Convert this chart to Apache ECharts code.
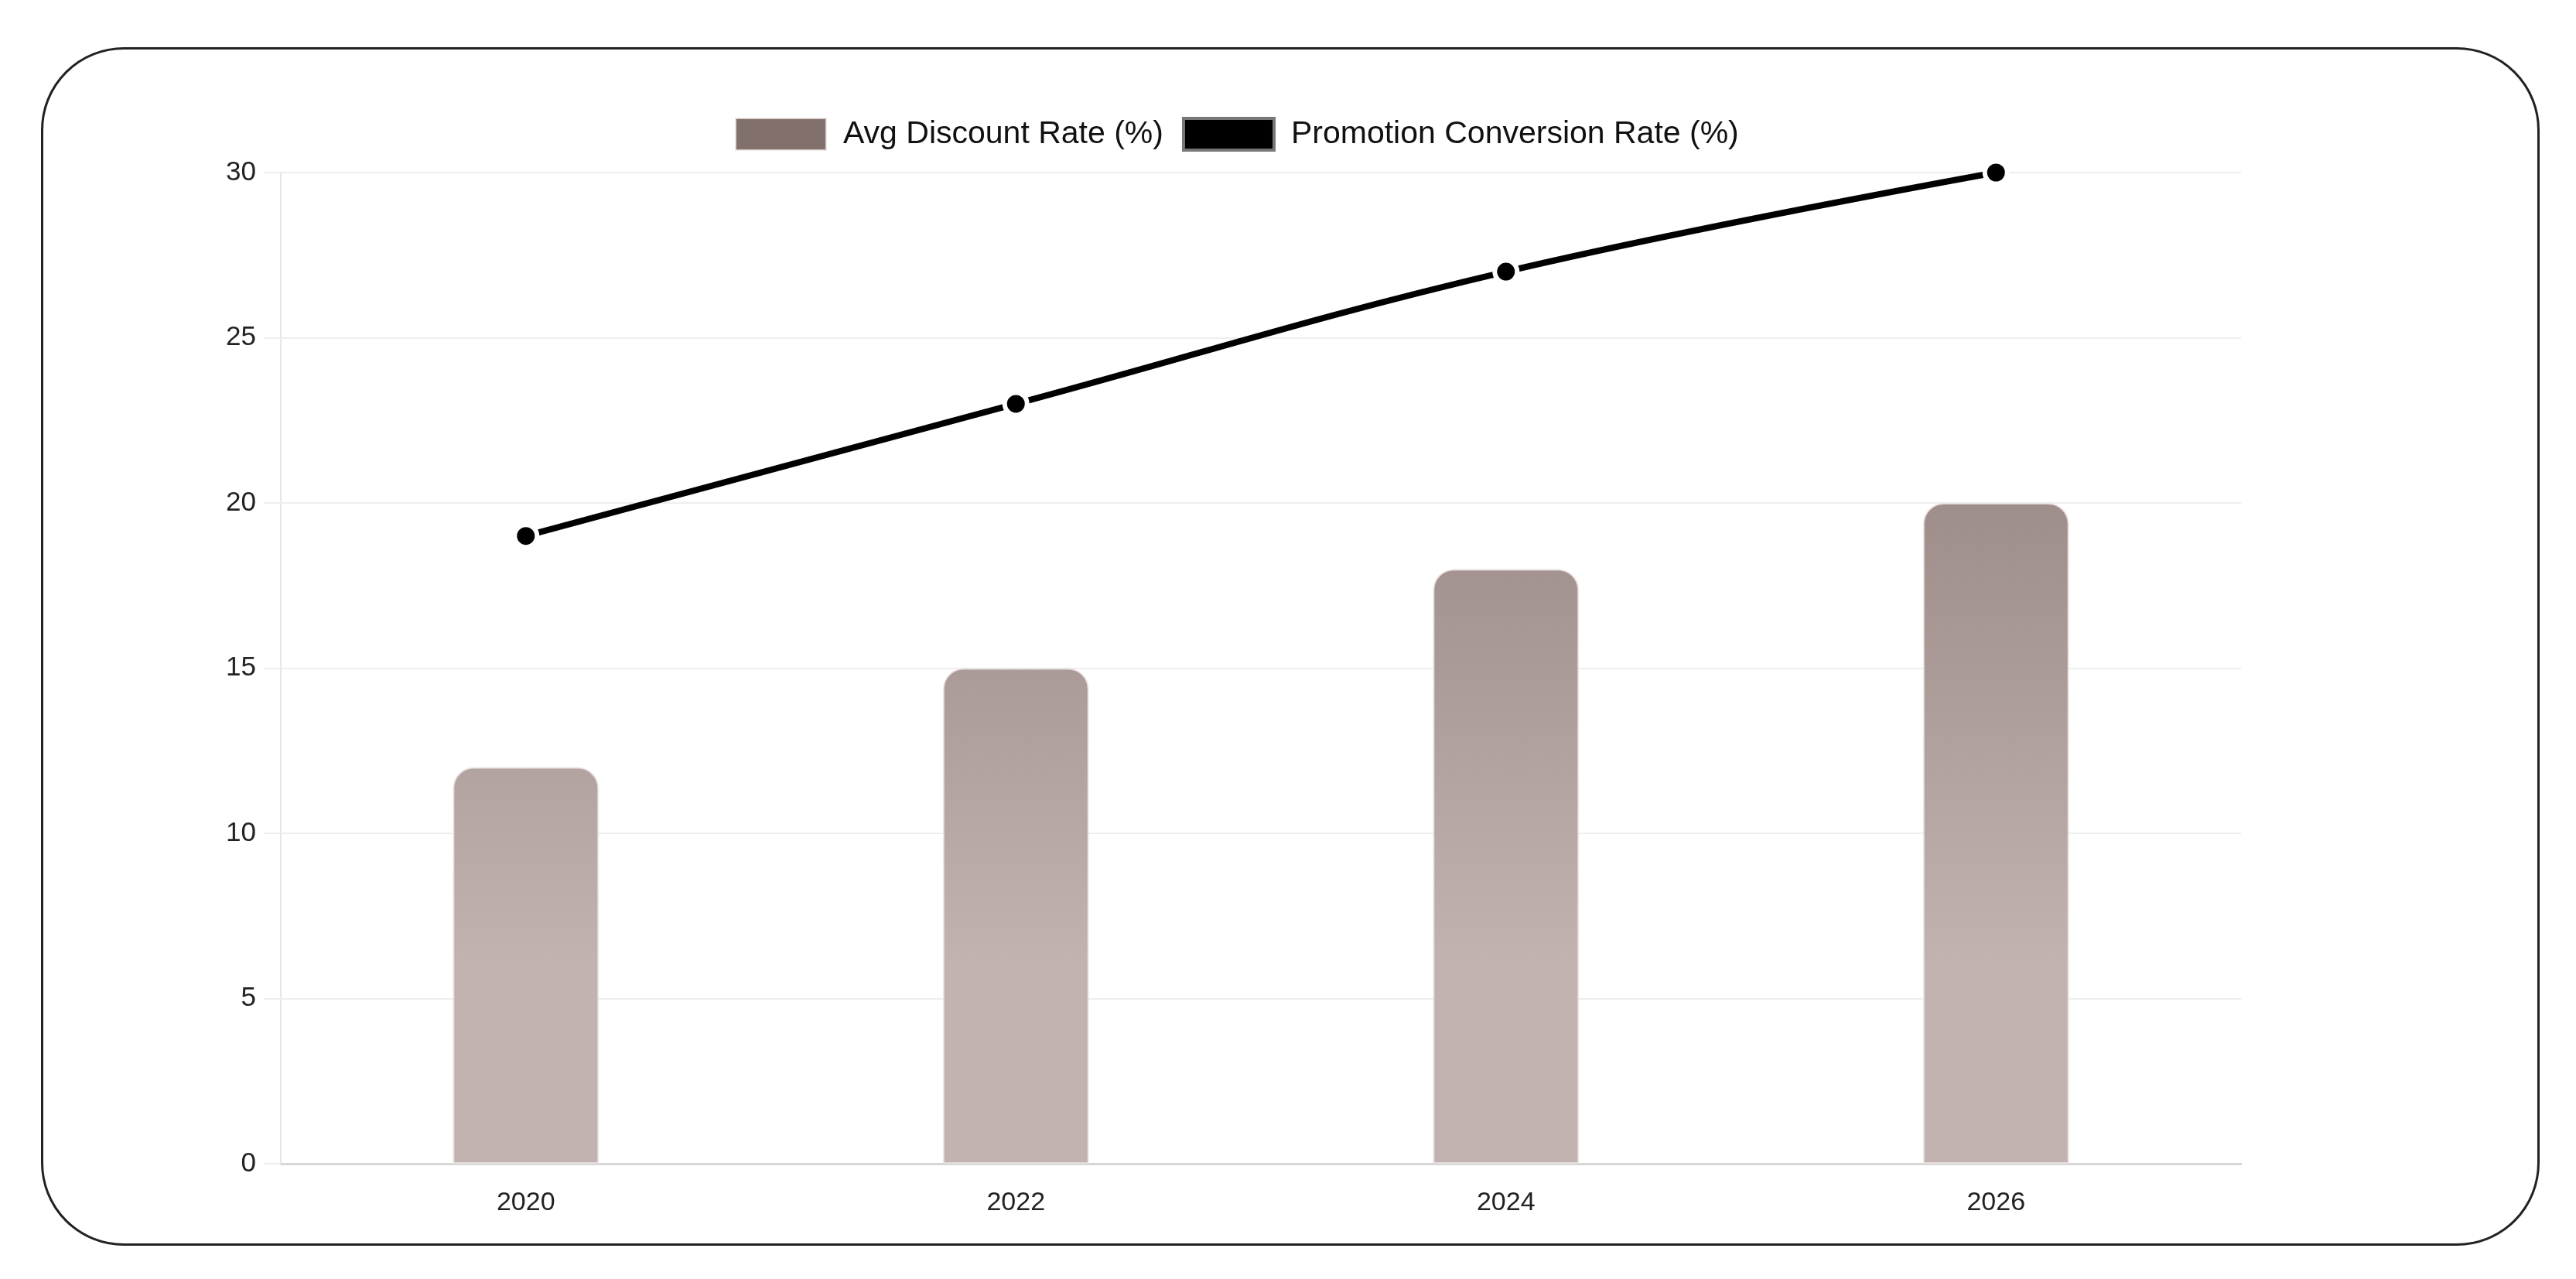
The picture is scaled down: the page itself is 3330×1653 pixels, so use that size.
<!DOCTYPE html>
<html>
<head>
<meta charset="utf-8">
<script src="https://cdn.jsdelivr.net/npm/echarts@6/dist/echarts.min.js"></script>
<style>
html,body{margin:0;padding:0;background:#fff;}
#frame{position:absolute;left:53px;top:61px;width:3224px;height:1543px;border:3px solid #222;border-radius:107px;pointer-events:none;}
#main{position:absolute;left:0;top:0;width:3330px;height:1653px;}
</style>
</head>
<body>
<div id="main"></div>
<div id="frame"></div>
<script>
// data
var years = ['2020', '2022', '2024', '2026'];
var discountRate = [12, 15, 18, 20];
var conversionRate = [19, 23, 27, 30];

var gridTop = 223, gridBottom = 149;

var myChart = echarts.init(document.getElementById('main'));
myChart.setOption({
	textStyle: { fontFamily: 'Liberation Sans, Arial, sans-serif' },
	legend: {
		top: 146,
		left: 945,
		itemWidth: 117,
		itemHeight: 41,
		itemGap: 24,
		textStyle: { fontSize: 41, color: '#111', padding: [0, 0, 0, 17] },
		data: [
			{ name: 'Avg Discount Rate (%)', icon: 'rect', itemStyle: { color: '#82706c' } },
			{ name: 'Promotion Conversion Rate (%)', icon: 'rect', itemStyle: { color: '#000', borderColor: '#777', borderWidth: 4 } }
		]
	},
	grid: { left: 363, right: 433, top: gridTop, bottom: gridBottom },
	xAxis: {
		type: 'category',
		data: years,
		axisLine: { lineStyle: { color: '#d6d6d6', width: 3 } },
		axisTick: { show: false },
		axisLabel: { fontSize: 34, color: '#222', margin: 34 }
	},
	yAxis: {
		type: 'value',
		min: 0,
		max: 30,
		interval: 5,
		axisLine: { show: true, lineStyle: { color: '#e6e6e6', width: 2 } },
		axisTick: { show: true, length: 22, lineStyle: { color: '#eeeeee', width: 2 } },
		splitLine: { lineStyle: { color: '#eeeeee', width: 2 } },
		axisLabel: { fontSize: 35, color: '#222', margin: 32 }
	},
	series: [{
		name: 'Avg Discount Rate (%)',
		type: 'bar',
		data: discountRate,
		barWidth: '29.8%',
		itemStyle: {
			borderRadius: [26, 26, 0, 0],
			borderColor: 'rgba(235,228,226,0.8)',
			borderWidth: 2,
			color: new echarts.graphic.LinearGradient(0, gridTop, 0, 1653 - gridBottom, [
				{ offset: 0, color: '#85736f' },
				{ offset: 0.8, color: '#c2b3b0' },
				{ offset: 1, color: '#c2b3b0' }
			], true)
		}
	}, {
		name: 'Promotion Conversion Rate (%)',
		type: 'line',
		data: conversionRate,
		smooth: 0.4,
		symbol: 'circle',
		symbolSize: 29,
		lineStyle: { color: '#000', width: 8 },
		itemStyle: { color: '#000', borderColor: '#fff', borderWidth: 6 }
	}]
});
</script>
</body>
</html>
